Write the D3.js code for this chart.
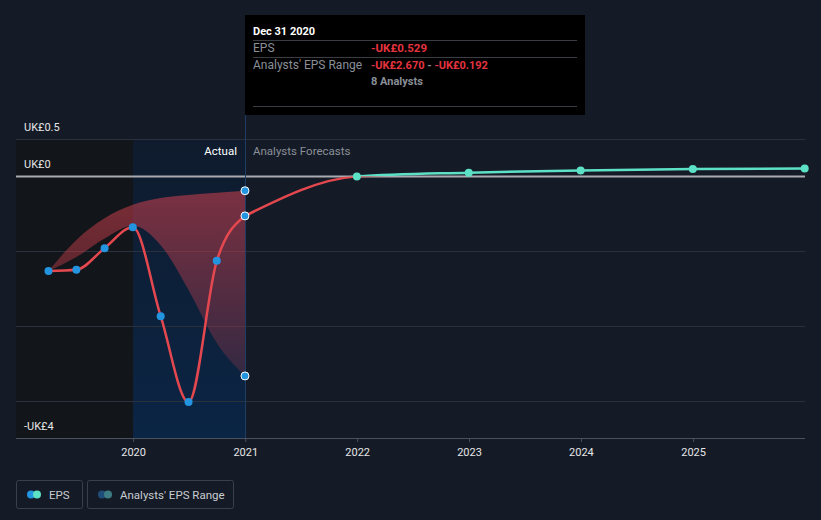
<!DOCTYPE html>
<html>
<head>
<meta charset="utf-8">
<script src="https://cdn.jsdelivr.net/npm/d3@7"></script>
<style>
body{margin:0;background:#151b26;}
svg{display:block;font-family:Roboto,"Open Sans",sans-serif;}
</style>
</head>
<body>
<div id="chart"></div>
<script>
var w=821,h=520;

// actual EPS (quarterly, trailing)
var actualDates=["2019-03-31","2019-06-30","2019-09-30","2019-12-31","2020-03-31","2020-06-30","2020-09-30","2020-12-31"];
var actualEps=[-1.266,-1.25,-0.96,-0.68,-1.87,-3.02,-1.13,-0.529];

// analysts' range
var rangeDates=["2019-03-31","2019-06-30","2019-09-30","2019-12-31","2020-03-31","2020-06-30","2020-09-30","2020-12-31"];
var rangeLow=[-1.266,-1.08,-0.83,-0.66,-0.92,-1.52,-2.23,-2.67];
var rangeHigh=[-1.266,-0.85,-0.56,-0.38,-0.29,-0.25,-0.22,-0.192];

// forecasts
var forecastDates=["2020-12-31","2021-12-31","2022-12-31","2023-12-31","2024-12-31","2025-12-31"];
var forecastEps=[-0.529,0.0,0.05,0.08,0.10,0.105];

var yearTicks=[2020,2021,2022,2023,2024,2025];

var parse=d3.timeParse("%Y-%m-%d");

var svg=d3.select("#chart").append("svg")
  .attr("width",w).attr("height",h);

var x=d3.scaleTime()
  .domain([new Date(2018,11,15),new Date(2026,0,1)])
  .range([16,805]);
var y=d3.scaleLinear().domain([-3.5,0.5]).range([438,139]);

var defs=svg.append("defs");

var hl=defs.append("linearGradient").attr("id","hl").attr("x1",0).attr("x2",0).attr("y1",0).attr("y2",1);
hl.append("stop").attr("offset","0%").attr("stop-color","#0f1b2d");
hl.append("stop").attr("offset","100%").attr("stop-color","#0b2545");

var band=defs.append("linearGradient").attr("id","band").attr("gradientUnits","userSpaceOnUse")
  .attr("x1",0).attr("x2",0).attr("y1",y(-0.2)).attr("y2",y(-2.7));
band.append("stop").attr("offset","0%").attr("stop-color","#d2414f").attr("stop-opacity",0.55);
band.append("stop").attr("offset","100%").attr("stop-color","#d2414f").attr("stop-opacity",0.2);

// line colour: red below zero, teal above
var lc=defs.append("linearGradient").attr("id","lc").attr("gradientUnits","userSpaceOnUse")
  .attr("x1",0).attr("x2",0).attr("y1",y(0.5)).attr("y2",y(-3.5));
var z=(y(0)-y(0.5))/(y(-3.5)-y(0.5));
lc.append("stop").attr("offset",0).attr("stop-color","#5ce0c6");
lc.append("stop").attr("offset",z-0.002).attr("stop-color","#5ce0c6");
lc.append("stop").attr("offset",z+0.002).attr("stop-color","#e5474f");
lc.append("stop").attr("offset",1).attr("stop-color","#e5474f");

// past / highlight regions
svg.append("rect").attr("x",16).attr("y",139)
  .attr("width",x(new Date(2020,0,1))-16).attr("height",438-139)
  .attr("fill","#121519");
svg.append("rect").attr("x",x(new Date(2020,0,1))).attr("y",139)
  .attr("width",x(new Date(2021,0,1))-x(new Date(2020,0,1))).attr("height",438-139)
  .attr("fill","url(#hl)");

// grid
svg.selectAll(".grid").data([0.5,-1,-2,-3]).enter().append("line")
  .attr("x1",16).attr("x2",805)
  .attr("y1",function(d){return Math.round(y(d))+0.5;})
  .attr("y2",function(d){return Math.round(y(d))+0.5;})
  .attr("stroke","#2a303c").attr("stroke-width",1);

// x axis
svg.append("line").attr("x1",16).attr("x2",805).attr("y1",438.5).attr("y2",438.5)
  .attr("stroke","#4a505c");
var xa=svg.append("g").attr("transform","translate(0,438)")
  .call(d3.axisBottom(x).tickValues(yearTicks.map(function(d){return new Date(d,0,1);}))
    .tickFormat(d3.timeFormat("%Y")).tickSize(4).tickPadding(6));
xa.select(".domain").remove();
xa.selectAll("line").attr("stroke","#4a505c");
xa.selectAll("text").attr("fill","#e6e6e6").attr("font-size",11)
  .attr("font-family","Roboto,sans-serif");

// y labels
var yl=[[0.5,"UK£0.5"],[0,"UK£0"],[-3.5,"-UK£4"]];
svg.selectAll(".yl").data(yl).enter().append("text")
  .attr("x",24).attr("y",function(d){return y(d[0])-8;})
  .attr("fill","#e6e6e6").attr("font-size",11).text(function(d){return d[1];});

// analysts range band
var rData=rangeDates.map(function(d,i){return {date:parse(d),lo:rangeLow[i],hi:rangeHigh[i]};});
svg.append("path").datum(rData)
  .attr("d",d3.area().curve(d3.curveMonotoneX)
    .x(function(d){return x(d.date);})
    .y0(function(d){return y(d.lo);})
    .y1(function(d){return y(d.hi);}))
  .attr("fill","url(#band)");

// zero line
svg.append("line").attr("x1",16).attr("x2",805).attr("y1",y(0)).attr("y2",y(0))
  .attr("stroke","#a9abb0").attr("stroke-width",2);

// tooltip guide line
svg.append("line").attr("x1",245.5).attr("x2",245.5).attr("y1",115).attr("y2",438)
  .attr("stroke","#1d3d63").attr("stroke-width",1);

var line=d3.line().curve(d3.curveMonotoneX)
  .x(function(d){return x(d.date);}).y(function(d){return y(d.v);});

var aData=actualDates.map(function(d,i){return {date:parse(d),v:actualEps[i]};});
var fData=forecastDates.map(function(d,i){return {date:parse(d),v:forecastEps[i]};});

svg.append("path").datum(aData).attr("d",line)
  .attr("fill","none").attr("stroke","url(#lc)").attr("stroke-width",2.5);
svg.append("path").datum(fData).attr("d",line)
  .attr("fill","none").attr("stroke","url(#lc)").attr("stroke-width",2.5);

// points
svg.selectAll(".fp").data(fData.slice(1)).enter().append("circle")
  .attr("cx",function(d){return x(d.date);}).attr("cy",function(d){return y(d.v);})
  .attr("r",4).attr("fill","#5ce0c6");
svg.selectAll(".ap").data(aData.slice(0,-1)).enter().append("circle")
  .attr("cx",function(d){return x(d.date);}).attr("cy",function(d){return y(d.v);})
  .attr("r",4).attr("fill","#2394df");
// hovered points
var hov=[aData[aData.length-1].v,rangeLow[rangeLow.length-1],rangeHigh[rangeHigh.length-1]];
svg.selectAll(".hp").data(hov).enter().append("circle")
  .attr("cx",x(parse("2020-12-31"))).attr("cy",function(d){return y(d);})
  .attr("r",4).attr("fill","#2394df").attr("stroke","#ffffff").attr("stroke-width",1);

// Actual / Forecast labels
svg.append("text").attr("x",237).attr("y",155).attr("text-anchor","end")
  .attr("fill","#ffffff").attr("font-size",11.5).text("Actual");
svg.append("text").attr("x",253).attr("y",155)
  .attr("fill","#8a8f98").attr("font-size",11.5).text("Analysts Forecasts");

// tooltip
var tt=svg.append("g").attr("transform","translate(245,15)");
tt.append("rect").attr("width",340).attr("height",100).attr("fill","#000000");
tt.append("text").attr("x",8).attr("y",20).attr("fill","#ffffff")
  .attr("font-size",11).attr("font-weight","bold").text("Dec 31 2020");
[25.5,42.5,91.5].forEach(function(yy){
  tt.append("line").attr("x1",8).attr("x2",332).attr("y1",yy).attr("y2",yy)
    .attr("stroke","#3a3d44");
});
tt.append("text").attr("x",8).attr("y",37).attr("fill","#8a8f98").attr("font-size",12).text("EPS");
tt.append("text").attr("x",126).attr("y",37).attr("fill","#e5333f").attr("font-size",11.5)
  .attr("font-weight","bold").text("-UK£0.529");
tt.append("text").attr("x",8).attr("y",54).attr("fill","#8a8f98").attr("font-size",12).text("Analysts' EPS Range");
var rt=tt.append("text").attr("x",126).attr("y",54).attr("font-size",11).attr("font-weight","bold");
rt.append("tspan").attr("fill","#e5333f").text("-UK£2.670");
rt.append("tspan").attr("fill","#8a8f98").text(" - ");
rt.append("tspan").attr("fill","#e5333f").text("-UK£0.192");
tt.append("text").attr("x",126).attr("y",70).attr("fill","#8a8f98").attr("font-size",11)
  .attr("font-weight","bold").text("8 Analysts");

// legend
var lg=[{x:16,w:66,label:"EPS",c1:"#2394df",c2:"#5ce0c6"},
        {x:87,w:146,label:"Analysts' EPS Range",c1:"#1e4d7a",c2:"#3d7c83"}];
var li=svg.selectAll(".lg").data(lg).enter().append("g")
  .attr("transform",function(d){return "translate("+d.x+",480)";});
li.append("rect").attr("x",0.5).attr("y",0.5).attr("width",function(d){return d.w;}).attr("height",28)
  .attr("rx",2).attr("fill","none").attr("stroke","#3a3f4a");
li.append("circle").attr("cx",15).attr("cy",14.5).attr("r",4).attr("fill",function(d){return d.c1;});
li.append("circle").attr("cx",21).attr("cy",14.5).attr("r",4).attr("fill",function(d){return d.c2;});
li.append("text").attr("x",33).attr("y",18.5).attr("fill","#c8cbd0").attr("font-size",11.5)
  .text(function(d){return d.label;});
</script>
</body>
</html>
